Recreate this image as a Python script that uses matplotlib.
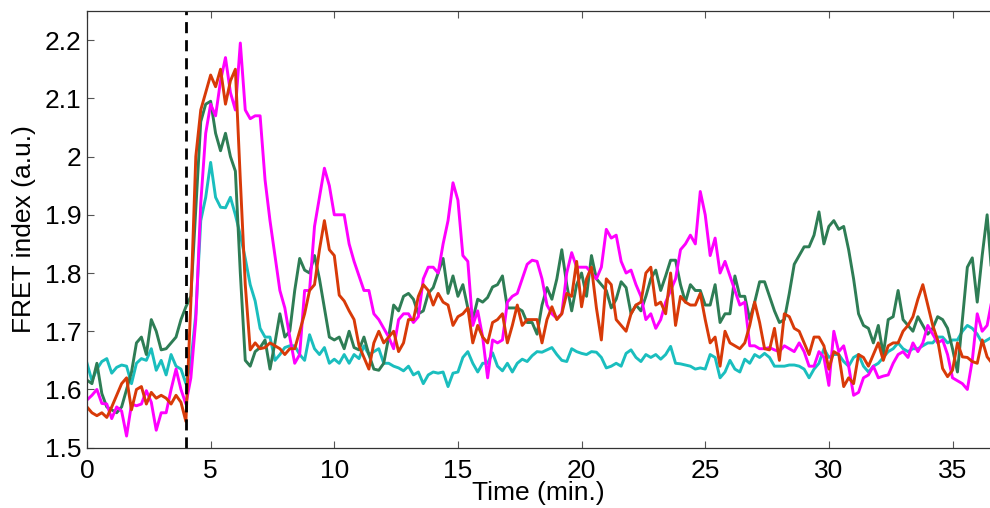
import numpy as np
import matplotlib
matplotlib.use('Agg')
import matplotlib.pyplot as plt

plt.rcParams['font.family'] = ['Liberation Sans', 'DejaVu Sans']

# time axis (min), one sample every 0.2 min
time = np.round(np.arange(184) * 0.2, 1)

cyan = [
    1.645, 1.615, 1.635, 1.648, 1.653, 1.628, 1.638, 1.642, 1.64, 1.61, 1.645, 1.653, 1.65, 1.67, 1.633, 1.65,
    1.625, 1.66, 1.64, 1.635, 1.61, 1.645, 1.73, 1.89, 1.93, 1.99,
    1.93, 1.913, 1.912, 1.93, 1.9, 1.865, 1.825, 1.78, 1.752, 1.705, 1.69, 1.69, 1.65, 1.66, 1.672, 1.675,
    1.675, 1.66, 1.65, 1.694, 1.67, 1.66, 1.672, 1.645, 1.652,
    1.645, 1.66, 1.645, 1.66, 1.653, 1.675, 1.66, 1.665, 1.67, 1.645, 1.645, 1.64, 1.637, 1.632, 1.64, 1.625,
    1.63, 1.61, 1.625, 1.63, 1.628, 1.63, 1.605, 1.628, 1.63,
    1.655, 1.665, 1.645, 1.63, 1.645, 1.645, 1.663, 1.64, 1.632, 1.645, 1.63, 1.645, 1.652, 1.648, 1.658, 1.665,
    1.664, 1.668, 1.672, 1.66, 1.65, 1.648, 1.67, 1.665, 1.662,
    1.66, 1.665, 1.664, 1.655, 1.637, 1.64, 1.645, 1.64, 1.662, 1.668, 1.655, 1.648, 1.66, 1.655, 1.66, 1.652,
    1.66, 1.674, 1.645, 1.644, 1.642, 1.64, 1.635, 1.637, 1.635,
    1.66, 1.655, 1.62, 1.63, 1.65, 1.635, 1.63, 1.652, 1.645, 1.66, 1.655, 1.662, 1.655, 1.64, 1.64, 1.64,
    1.642, 1.642, 1.64, 1.635, 1.62, 1.635, 1.645, 1.67, 1.655,
    1.66, 1.66, 1.648, 1.64, 1.655, 1.66, 1.64, 1.63, 1.64, 1.645, 1.655, 1.665, 1.67, 1.68, 1.67, 1.665,
    1.67, 1.67, 1.675, 1.68, 1.68, 1.69, 1.69, 1.68, 1.685, 1.685, 1.70, 1.71, 1.705, 1.695, 1.68, 1.685, 1.69,
]

green = [
    1.616, 1.61, 1.645, 1.593, 1.57, 1.565, 1.56, 1.57, 1.6, 1.63, 1.68, 1.69, 1.66, 1.72, 1.70, 1.668,
    1.67, 1.68, 1.69, 1.72, 1.742, 1.76, 1.91, 2.06, 2.09, 2.095,
    2.04, 2.01, 2.04, 2.0, 1.975, 1.8, 1.65, 1.64, 1.665, 1.672, 1.685, 1.635, 1.68, 1.73, 1.69, 1.70,
    1.77, 1.825, 1.805, 1.8, 1.83, 1.79, 1.74, 1.69, 1.685,
    1.69, 1.67, 1.7, 1.672, 1.668, 1.69, 1.66, 1.635, 1.633, 1.645, 1.69, 1.745, 1.735, 1.76, 1.765, 1.755,
    1.73, 1.735, 1.765, 1.775, 1.8, 1.825, 1.765, 1.795, 1.76,
    1.78, 1.74, 1.72, 1.755, 1.75, 1.758, 1.776, 1.78, 1.795, 1.74, 1.74, 1.74, 1.735, 1.715, 1.715, 1.695,
    1.745, 1.775, 1.755, 1.79, 1.84, 1.78, 1.735, 1.78, 1.8,
    1.76, 1.83, 1.79, 1.78, 1.77, 1.74, 1.755, 1.785, 1.775, 1.73, 1.745, 1.735, 1.76, 1.79, 1.805, 1.77,
    1.795, 1.822, 1.822, 1.78, 1.75, 1.78, 1.77, 1.77, 1.745,
    1.745, 1.78, 1.715, 1.73, 1.73, 1.795, 1.76, 1.76, 1.72, 1.75, 1.785, 1.785, 1.76, 1.735, 1.715, 1.72,
    1.765, 1.815, 1.83, 1.845, 1.845, 1.865, 1.905, 1.85, 1.88,
    1.89, 1.875, 1.88, 1.84, 1.79, 1.73, 1.71, 1.705, 1.68, 1.71, 1.66, 1.72, 1.725, 1.77, 1.72, 1.71,
    1.70, 1.725, 1.71, 1.695, 1.705, 1.725, 1.72, 1.705, 1.67, 1.63, 1.72, 1.81, 1.826, 1.75, 1.83, 1.9, 1.79,
]

red = [
    1.57, 1.56, 1.555, 1.56, 1.552, 1.57, 1.59, 1.61, 1.62, 1.565, 1.6, 1.605, 1.575, 1.595, 1.585, 1.59,
    1.585, 1.575, 1.59, 1.578, 1.545, 1.75, 2.0, 2.08, 2.11, 2.14,
    2.12, 2.15, 2.09, 2.13, 2.15, 1.96, 1.78, 1.668, 1.68, 1.67, 1.672, 1.68, 1.675, 1.67, 1.66, 1.67,
    1.67, 1.7, 1.73, 1.77, 1.78, 1.84, 1.89, 1.84, 1.83,
    1.762, 1.752, 1.735, 1.72, 1.675, 1.655, 1.635, 1.68, 1.7, 1.68, 1.69, 1.70, 1.665, 1.68, 1.72, 1.72,
    1.76, 1.78, 1.77, 1.745, 1.765, 1.75, 1.745, 1.71, 1.725,
    1.73, 1.74, 1.68, 1.71, 1.69, 1.68, 1.715, 1.72, 1.73, 1.68, 1.71, 1.745, 1.71, 1.72, 1.72, 1.72,
    1.68, 1.72, 1.742, 1.72, 1.73, 1.765, 1.76, 1.82, 1.742,
    1.79, 1.81, 1.74, 1.685, 1.79, 1.78, 1.72, 1.71, 1.70, 1.73, 1.745, 1.75, 1.80, 1.81, 1.745, 1.75,
    1.73, 1.80, 1.71, 1.76, 1.75, 1.745, 1.745, 1.765, 1.72,
    1.68, 1.69, 1.64, 1.70, 1.68, 1.675, 1.67, 1.68, 1.71, 1.75, 1.715, 1.67, 1.668, 1.705, 1.65, 1.73,
    1.725, 1.705, 1.70, 1.68, 1.66, 1.69, 1.69, 1.675, 1.635,
    1.665, 1.66, 1.605, 1.62, 1.61, 1.66, 1.655, 1.64, 1.66, 1.68, 1.65, 1.675, 1.68, 1.68, 1.7, 1.71,
    1.725, 1.755, 1.78, 1.745, 1.71, 1.685, 1.636, 1.622, 1.633, 1.68, 1.656, 1.655, 1.648, 1.645, 1.685, 1.656, 1.645,
]

magenta = [
    1.582, 1.59, 1.6, 1.576, 1.575, 1.55, 1.57, 1.563, 1.52, 1.575, 1.572, 1.575, 1.598, 1.578, 1.53, 1.56,
    1.56, 1.6, 1.635, 1.6, 1.575, 1.62, 1.72, 1.92, 2.04, 2.09,
    2.07, 2.13, 2.17, 2.11, 2.08, 2.195, 2.08, 2.065, 2.07, 2.07, 1.96, 1.89, 1.83, 1.77, 1.74, 1.69,
    1.645, 1.66, 1.77, 1.77, 1.88, 1.93, 1.98, 1.95, 1.90,
    1.9, 1.9, 1.85, 1.82, 1.795, 1.77, 1.77, 1.73, 1.72, 1.705, 1.69, 1.67, 1.72, 1.73, 1.73, 1.715,
    1.725, 1.79, 1.81, 1.81, 1.8, 1.85, 1.89, 1.955, 1.925,
    1.83, 1.82, 1.71, 1.735, 1.69, 1.62, 1.685, 1.68, 1.685, 1.75, 1.76, 1.765, 1.79, 1.815, 1.822, 1.82,
    1.79, 1.745, 1.73, 1.722, 1.73, 1.8, 1.835, 1.81, 1.81,
    1.81, 1.8, 1.79, 1.81, 1.875, 1.86, 1.865, 1.82, 1.8, 1.805, 1.78, 1.76, 1.72, 1.73, 1.705, 1.72,
    1.75, 1.77, 1.79, 1.84, 1.85, 1.865, 1.85, 1.94, 1.9,
    1.83, 1.86, 1.80, 1.82, 1.795, 1.77, 1.745, 1.75, 1.675, 1.675, 1.67, 1.67, 1.672, 1.668, 1.665, 1.675,
    1.67, 1.665, 1.68, 1.665, 1.64, 1.64, 1.665, 1.655, 1.607,
    1.70, 1.665, 1.675, 1.64, 1.59, 1.595, 1.62, 1.625, 1.64, 1.62, 1.623, 1.625, 1.645, 1.66, 1.665, 1.655,
    1.68, 1.665, 1.68, 1.71, 1.695, 1.68, 1.685, 1.66, 1.62, 1.615, 1.61, 1.6, 1.65, 1.73, 1.7, 1.71, 1.755,
]

stim_time = 4.0
x_ticks = [0, 5, 10, 15, 20, 25, 30, 35]
y_ticks = [1.5, 1.6, 1.7, 1.8, 1.9, 2.0, 2.1, 2.2]
y_tick_labels = ['1.5', '1.6', '1.7', '1.8', '1.9', '2', '2.1', '2.2']

fig = plt.figure(figsize=(9.9, 5.08), dpi=100)
ax = fig.add_axes([87 / 990, 1 - 447.7 / 508, 902.6 / 990, (447.7 - 11) / 508])

lw = 2.1
ax.plot(time, cyan, color='#1ABEBE', lw=lw)
ax.plot(time, green, color='#2E7D55', lw=lw)
ax.plot(time, magenta, color='#FF00FF', lw=lw)
ax.plot(time, red, color='#D83A08', lw=lw)

ax.axvline(stim_time, color='black', lw=2.0, ls=(0, (4, 2.5)))

ax.set_xlim(0, 36.5)
ax.set_ylim(1.5, 2.25)
ax.set_xticks(x_ticks)
ax.set_yticks(y_ticks)
ax.set_yticklabels(y_tick_labels)

for side in ['left', 'bottom', 'top']:
    ax.spines[side].set_color('#333333')
    ax.spines[side].set_linewidth(0.9)
ax.spines['right'].set_visible(False)

ax.tick_params(direction='in', length=5, width=0.8, color='#555555',
               top=True, right=False, labelsize=19)
ax.tick_params(axis='x', pad=8)
ax.tick_params(axis='y', pad=4)

ax.set_xlabel('Time (min.)', fontsize=19, labelpad=-1)
ax.set_ylabel('FRET index (a.u.)', fontsize=19, labelpad=6)

fig.savefig('out.png', dpi=100)
